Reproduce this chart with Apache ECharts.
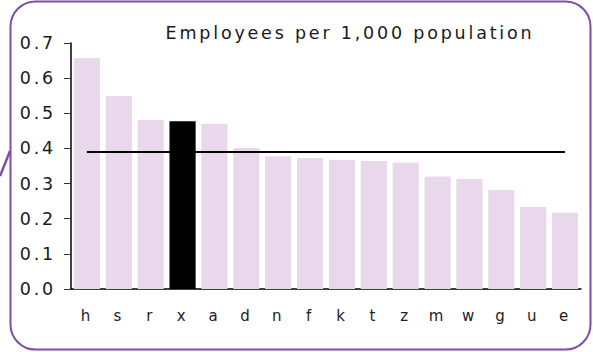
<!DOCTYPE html>
<html><head><meta charset="utf-8">
<script src="https://cdn.jsdelivr.net/npm/echarts@6/dist/echarts.min.js"></script>
<style>html,body{margin:0;padding:0;background:#fff}#c{width:593px;height:352px}#c text{letter-spacing:2.8px}</style>
</head><body><div id="c"></div>
<script>
const categories = ['h','s','r','x','a','d','n','f','k','t','z','m','w','g','u','e'];
const values = [0.657,0.549,0.481,0.477,0.470,0.401,0.378,0.373,0.367,0.364,0.359,0.320,0.313,0.282,0.233,0.217];
const highlight = 'x';
const meanValue = 0.39;
const meanLine = categories.map(() => meanValue);
const title = 'Employees per 1,000 population';

const chart = echarts.init(document.getElementById('c'), null, {renderer:'svg'});
chart.setOption({
  animation:false,
  backgroundColor:'#fff',
  title:{text:title,left:345,top:19,textAlign:'center',
    textStyle:{fontFamily:'DejaVu Sans',fontSize:17.5,fontWeight:'normal',color:'#1a1a1a'}},
  grid:{left:71,right:12,top:43,bottom:63},
  xAxis:{type:'category',data:categories,
    axisLine:{lineStyle:{color:'#000',width:1.5}},
    axisTick:{show:false},
    axisLabel:{fontFamily:'DejaVu Sans',fontSize:15,color:'#222',margin:19}},
  yAxis:{type:'value',min:0,max:0.7,interval:0.1,
    splitLine:{show:false},
    axisLine:{show:true,lineStyle:{color:'#000',width:1.5}},
    axisTick:{show:true,length:7,lineStyle:{color:'#333'}},
    axisLabel:{fontFamily:'DejaVu Sans',fontSize:17.5,color:'#1a1a1a',margin:15,
      formatter:v=>v.toFixed(1)}},
  series:[
    {type:'bar',barCategoryGap:'18%',
     data:values.map((v,i)=>({value:v,itemStyle:{color:categories[i]===highlight?'#000':'#E9D8EB'}}))},
    {type:'line',data:meanLine,symbol:'none',z:5,
     lineStyle:{color:'#000',width:2}}
  ],
  graphic:[
    {type:'rect',shape:{x:10.5,y:1.5,width:580,height:348,r:25},
     style:{fill:null,stroke:'#7E4FA6',lineWidth:2},silent:true},
    {type:'line',shape:{x1:0,y1:176,x2:10,y2:151},
     style:{stroke:'#7E4FA6',lineWidth:2.5},silent:true}
  ]
});
</script></body></html>
